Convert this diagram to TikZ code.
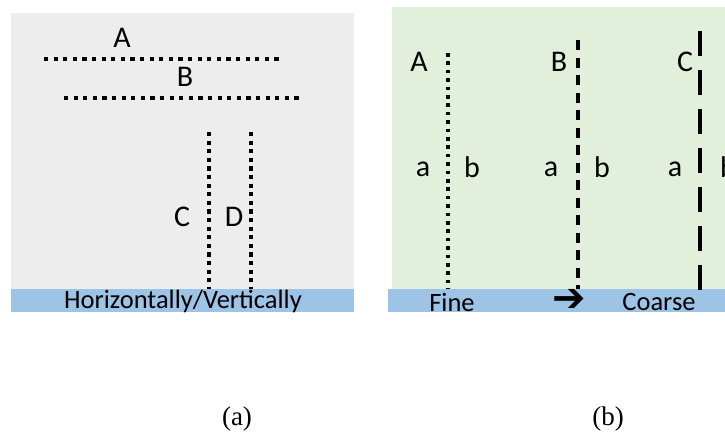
\documentclass[tikz,border=0pt]{standalone}
\usepackage{fontspec}
\setmainfont{Liberation Serif}
\setsansfont{Carlito}
\newfontfamily\symfont{DejaVu Sans}
\definecolor{panelgray}{HTML}{EDEDED}
\definecolor{panelgreen}{HTML}{E2EFDA}
\definecolor{barblue}{HTML}{9DC3E6}
\tikzset{
  lbl/.style={font=\sffamily\fontsize{30}{30}\selectfont, inner sep=0pt},
  bartext/.style={font=\sffamily\fontsize{26.5}{26.5}\selectfont, inner sep=0pt},
  captext/.style={font=\fontsize{27}{27}\selectfont, inner sep=0pt},
  hdots/.style={line width=4.2pt, dash pattern=on 4.2pt off 5.4pt},
  vdots/.style={line width=4.2pt, dash pattern=on 4.2pt off 4.4pt},
  finedots/.style={line width=3.8pt, dash pattern=on 3.6pt off 4.8pt},
  meddash/.style={line width=4.2pt, dash pattern=on 10pt off 7.5pt},
  longdash/.style={line width=4.6pt, dash pattern=on 25pt off 14pt},
}
\begin{document}
\begin{tikzpicture}[x=1pt,y=-1pt]
\clip (0,0) rectangle (725,432);
\fill[white] (0,0) rectangle (725,432);
% panel (a)
\fill[panelgray] (11,13) rectangle (354,289);
\fill[barblue] (11,289) rectangle (354,312);
\node[bartext] (hv) at (183,301) {Horizontally/Vertically};
\coordinate (a1) at (44,59);  \coordinate (a2) at (281,59);
\coordinate (b1) at (64,98);  \coordinate (b2) at (303,98);
\coordinate (c1) at (209,132); \coordinate (c2) at (209,289);
\coordinate (d1) at (251,132); \coordinate (d2) at (251,289);
\draw[hdots] (a1) -- (a2);
\draw[hdots] (b1) -- (b2);
\draw[vdots] (c1) -- (c2);
\draw[vdots] (d1) -- (d2);
\node[lbl] (la) at (122,38) {A};
\node[lbl] (lb) at (185,77) {B};
\node[lbl] (lc) at (182,217) {C};
\node[lbl] (ld) at (234,217) {D};
% panel (b)
\fill[panelgreen] (392,7) rectangle (725,289);
\fill[barblue] (388,289) rectangle (725,312);
\coordinate (fa1) at (448,53);  \coordinate (fa2) at (448,289);
\coordinate (fb1) at (578,40);  \coordinate (fb2) at (578,289);
\coordinate (fc1) at (700,31);  \coordinate (fc2) at (700,290);
\draw[finedots] (fa1) -- (fa2);
\draw[meddash] (fb1) -- (fb2);
\draw[longdash] (fc1) -- (fc2);
\node[lbl] (lA) at (419,62) {A};
\node[lbl] (lB) at (559,62) {B};
\node[lbl] (lC) at (685,62) {C};
\node[lbl] (a1l) at (423,169) {a};
\node[lbl] (b1l) at (472,167) {b};
\node[lbl] (a2l) at (551,169) {a};
\node[lbl] (b2l) at (602,167) {b};
\node[lbl] (a3l) at (675,169) {a};
\node[lbl] (b3l) at (728,167) {b};
\node[bartext] (fine) at (452,302) {Fine};
\node[font=\symfont\fontsize{40}{40}\selectfont, inner sep=0pt] (arr) at (569,300) {➔};
\node[bartext] (coarse) at (659,302) {Coarse};
% captions
\node[captext] (capa) at (237,419) {(a)};
\node[captext] (capb) at (608,419) {(b)};
\end{tikzpicture}
\end{document}
